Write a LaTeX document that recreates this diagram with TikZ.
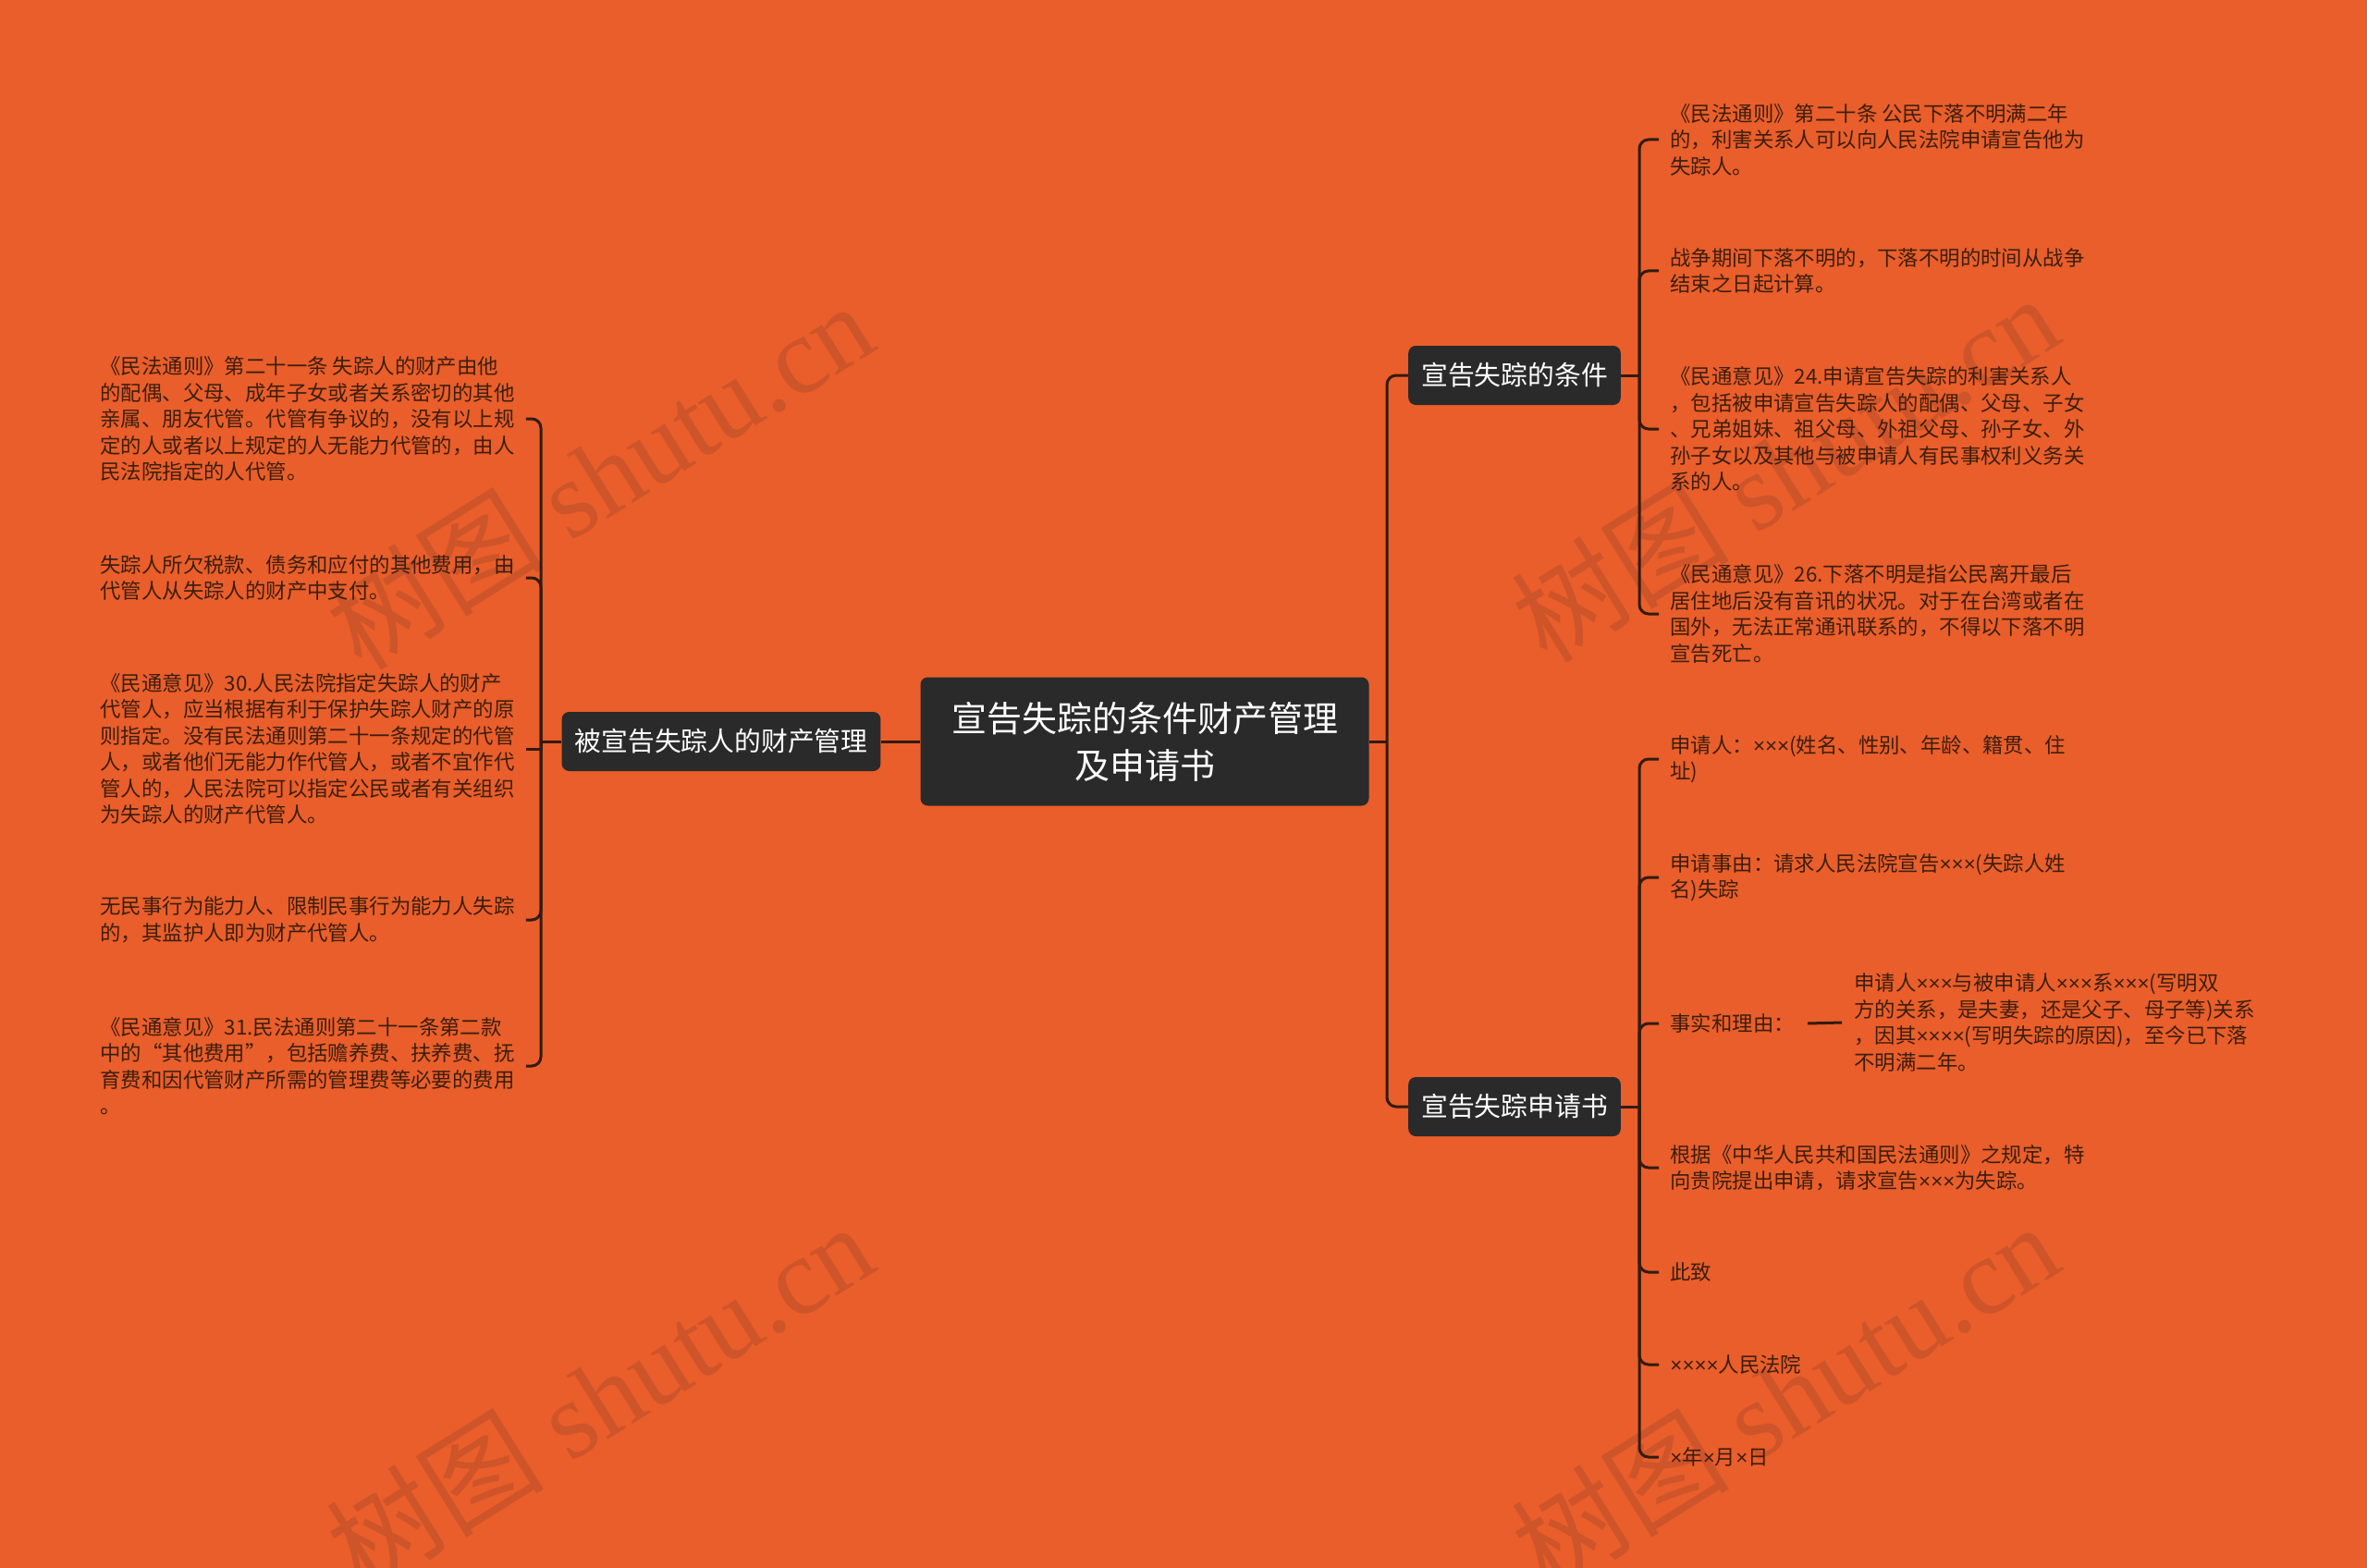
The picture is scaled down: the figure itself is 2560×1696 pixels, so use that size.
\documentclass[tikz,border=0pt]{standalone}
\usepackage{fontspec}
\newfontfamily\cjkfont{Noto Sans CJK SC}
\newfontfamily\wmfont{Liberation Serif}
\newfontfamily\latinfont{Liberation Sans}
\definecolor{bgorange}{RGB}{233,94,42}
\definecolor{nodegray}{RGB}{42,42,42}
\definecolor{linebrown}{RGB}{50,27,16}
\definecolor{textbrown}{RGB}{60,30,14}
\definecolor{wmorange}{RGB}{206,84,42}

\begin{document}
\begin{tikzpicture}[x=0.5pt,y=-0.5pt,
    rootbox/.style={fill=nodegray, rounded corners=4pt, text=white, align=center,
        minimum width=242.5pt, minimum height=69.5pt, inner sep=0pt,
        font=\cjkfont\fontsize{19}{25.5}\selectfont},
    topicbox/.style={fill=nodegray, rounded corners=4pt, text=white,
        inner xsep=7pt, minimum height=32pt, font=\cjkfont\fontsize{14.4}{17}\selectfont},
    leaf/.style={anchor=west, align=left, inner sep=0pt, text=textbrown,
        font=\cjkfont\fontsize{11.2}{14.25}\selectfont},
    conn/.style={draw=linebrown, line width=1.5pt, rounded corners=5pt},
    wm/.style={text=wmorange, rotate=32, font=\wmfont\fontsize{59}{59}\selectfont}]

            \fill[bgorange] (0,0) rectangle (2560,1696);
            \useasboundingbox (0,0) rectangle (2560,1696);

            \node[wm] (wm1) at (648,514) {{\cjkfont 树图} shutu.cn};
            \node[wm] (wm2) at (1930,506) {{\cjkfont 树图} shutu.cn};
            \node[wm] (wm3) at (648,1510) {{\cjkfont 树图} shutu.cn};
            \node[wm] (wm4) at (1930,1510) {{\cjkfont 树图} shutu.cn};

            \node[rootbox] (root) at (1238,802) {宣告失踪的条件财产管理\\及申请书};
            \node[topicbox, minimum width=171.5pt] (mgmt) at (780,802) {被宣告失踪人的财产管理};
            \node[topicbox, minimum width=114.5pt] (cond) at (1638,406) {宣告失踪的条件};
            \node[topicbox, minimum width=114.5pt] (apply) at (1638,1197) {宣告失踪申请书};

            \node[leaf] (m1) at (108,453) {《民法通则》第二十一条 失踪人的财产由他\\的配偶、父母、成年子女或者关系密切的其他\\亲属、朋友代管。代管有争议的，没有以上规\\定的人或者以上规定的人无能力代管的，由人\\民法院指定的人代管。};
            \node[leaf] (m2) at (108,625) {失踪人所欠税款、债务和应付的其他费用，由\\代管人从失踪人的财产中支付。};
            \node[leaf] (m3) at (108,810) {《民通意见》30.人民法院指定失踪人的财产\\代管人，应当根据有利于保护失踪人财产的原\\则指定。没有民法通则第二十一条规定的代管\\人，或者他们无能力作代管人，或者不宜作代\\管人的，人民法院可以指定公民或者有关组织\\为失踪人的财产代管人。};
            \node[leaf] (m4) at (108,995) {无民事行为能力人、限制民事行为能力人失踪\\的，其监护人即为财产代管人。};
            \node[leaf] (m5) at (108,1153) {《民通意见》31.民法通则第二十一条第二款\\中的“其他费用”，包括赡养费、扶养费、抚\\育费和因代管财产所需的管理费等必要的费用\\。};

            \node[leaf] (c1) at (1806,151) {《民法通则》第二十条 公民下落不明满二年\\的，利害关系人可以向人民法院申请宣告他为\\失踪人。};
            \node[leaf] (c2) at (1806,293) {战争期间下落不明的，下落不明的时间从战争\\结束之日起计算。};
            \node[leaf] (c3) at (1806,464) {《民通意见》24.申请宣告失踪的利害关系人\\，包括被申请宣告失踪人的配偶、父母、子女\\、兄弟姐妹、祖父母、外祖父母、孙子女、外\\孙子女以及其他与被申请人有民事权利义务关\\系的人。};
            \node[leaf] (c4) at (1806,664) {《民通意见》26.下落不明是指公民离开最后\\居住地后没有音讯的状况。对于在台湾或者在\\国外，无法正常通讯联系的，不得以下落不明\\宣告死亡。};

            \node[leaf] (a1) at (1806,821) {申请人：{\latinfont ×××}(姓名、性别、年龄、籍贯、住\\址)};
            \node[leaf] (a2) at (1806,949) {申请事由：请求人民法院宣告{\latinfont ×××}(失踪人姓\\名)失踪};
            \node[leaf] (a3) at (1806,1107) {事实和理由：};
            \node[leaf] (a3x) at (2005,1106) {申请人{\latinfont ×××}与被申请人{\latinfont ×××}系{\latinfont ×××}(写明双\\方的关系，是夫妻，还是父子、母子等)关系\\，因其{\latinfont ××××}(写明失踪的原因)，至今已下落\\不明满二年。};
            \node[leaf] (a4) at (1806,1263) {根据《中华人民共和国民法通则》之规定，特\\向贵院提出申请，请求宣告{\latinfont ×××}为失踪。};
            \node[leaf] (a5) at (1806,1376) {此致};
            \node[leaf] (a6) at (1806,1476) {{\latinfont ××××}人民法院};
            \node[leaf] (a7) at (1806,1576) {{\latinfont ×}年{\latinfont ×}月{\latinfont ×}日};

            \coordinate (rj) at (1500,802);
            \coordinate (lj) at (585,802);
            \coordinate (cj) at (1773,406);
            \coordinate (aj) at (1773,1197);

            \draw[conn] (mgmt.east) -- (root.west);
            \draw[conn] (root.east) -- (rj);
            \draw[conn] (rj) |- (cond.west);
            \draw[conn] (rj) |- (apply.west);

            \draw[conn] (mgmt.west) -- (lj);
            \draw[conn] (lj) |- ([xshift=6pt]m1.east);
            \draw[conn] (lj) |- ([xshift=6pt]m2.east);
            \draw[conn, sharp corners] (lj) |- ([xshift=6pt]m3.east);
            \draw[conn] (lj) |- ([xshift=6pt]m4.east);
            \draw[conn] (lj) |- ([xshift=6pt]m5.east);

            \draw[conn] (cond.east) -- (cj);
            \draw[conn] (cj) |- ([xshift=-6pt]c1.west);
            \draw[conn] (cj) |- ([xshift=-6pt]c2.west);
            \draw[conn] (cj) |- ([xshift=-6pt]c3.west);
            \draw[conn] (cj) |- ([xshift=-6pt]c4.west);

            \draw[conn] (apply.east) -- (aj);
            \draw[conn] (aj) |- ([xshift=-6pt]a1.west);
            \draw[conn] (aj) |- ([xshift=-6pt]a2.west);
            \draw[conn] (aj) |- ([xshift=-6pt]a3.west);
            \draw[conn] (aj) |- ([xshift=-6pt]a4.west);
            \draw[conn] (aj) |- ([xshift=-6pt]a5.west);
            \draw[conn] (aj) |- ([xshift=-6pt]a6.west);
            \draw[conn] (aj) |- ([xshift=-6pt]a7.west);
            \draw[conn] ([xshift=7pt]a3.east) -- ([xshift=-6.5pt]a3x.west);
        \end{tikzpicture}
\end{document}
